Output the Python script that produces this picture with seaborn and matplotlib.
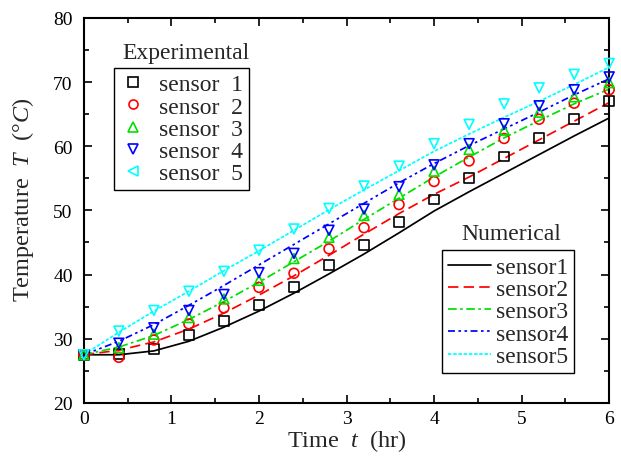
import matplotlib
matplotlib.use("Agg")
import matplotlib.pyplot as plt
from matplotlib.lines import Line2D
from matplotlib.ticker import MultipleLocator
import numpy as np
import pandas as pd
import seaborn as sns

# time points (hr) for both measured and computed curves
time = [0.0, 0.4, 0.8, 1.2, 1.6, 2.0, 2.4, 2.8, 3.2, 3.6, 4.0, 4.4, 4.8, 5.2, 5.6, 6.0]

exp_s1 = [27.5, 27.6, 28.4, 30.6, 32.8, 35.3, 38.1, 41.5, 44.6, 48.2, 51.7, 55.0, 58.4, 61.3, 64.3, 67.0]
exp_s2 = [27.5, 27.1, 29.8, 32.3, 34.8, 38.0, 40.2, 44.0, 47.3, 50.9, 54.5, 57.7, 61.2, 64.2, 66.7, 68.8]
exp_s3 = [27.5, 28.6, 30.7, 33.3, 36.2, 39.1, 42.5, 45.8, 49.2, 52.5, 56.1, 59.5, 62.5, 65.3, 67.7, 69.9]
exp_s4 = [27.5, 29.3, 31.7, 34.4, 36.9, 40.3, 43.3, 46.9, 50.2, 53.7, 57.1, 60.4, 63.5, 66.3, 68.8, 70.8]
exp_s5 = [27.5, 31.2, 34.4, 37.4, 40.5, 43.8, 47.1, 50.3, 53.8, 56.9, 60.4, 63.4, 66.6, 69.1, 71.2, 72.9]

# numerical results (deg C)
num_s1 = [27.5, 27.5, 28.1, 29.6, 31.8, 34.3, 37.1, 40.1, 43.2, 46.5, 49.9, 52.9, 55.8, 58.7, 61.6, 64.4]
num_s2 = [27.5, 28.2, 29.5, 31.5, 34.0, 36.8, 39.8, 43.0, 46.3, 49.5, 52.5, 55.2, 58.1, 61.0, 63.9, 66.8]
num_s3 = [27.5, 28.7, 30.5, 33.0, 35.8, 38.8, 42.0, 45.2, 48.6, 51.9, 55.2, 58.3, 61.3, 64.0, 66.6, 68.9]
num_s4 = [27.5, 29.6, 32.2, 35.2, 38.3, 41.5, 44.7, 47.9, 51.1, 54.3, 57.3, 60.1, 62.7, 65.3, 68.0, 70.5]
num_s5 = [27.5, 31.0, 34.3, 37.4, 40.6, 43.7, 46.9, 50.1, 53.2, 56.2, 59.2, 61.9, 64.5, 67.0, 69.6, 72.3]

sensors = ["sensor  1", "sensor  2", "sensor  3", "sensor  4", "sensor  5"]
num_labels = ["sensor1", "sensor2", "sensor3", "sensor4", "sensor5"]
exp_data = [exp_s1, exp_s2, exp_s3, exp_s4, exp_s5]
num_data = [num_s1, num_s2, num_s3, num_s4, num_s5]

colors = ["black", "red", "#00e000", "blue", "cyan"]
markers = ["s", "o", "^", "v", "v"]
legend_markers = ["s", "o", "^", "v", "<"]
dashes = ["-", (0, (6, 3)), (0, (5, 2, 1.5, 2)), (0, (4, 2, 1.5, 2, 1.5, 2)), (0, (2, 1))]

sns.set_style("ticks")
plt.rcParams["font.family"] = ["Liberation Serif", "DejaVu Serif"]
plt.rcParams["mathtext.fontset"] = "custom"
plt.rcParams["mathtext.rm"] = "Liberation Serif"
plt.rcParams["mathtext.it"] = "Liberation Serif:italic"

fig = plt.figure(figsize=(6.21, 4.60), dpi=100)
ax = fig.add_axes([0.135, 0.122, 0.846, 0.837])

# numerical curves
for i in range(5):
    df = pd.DataFrame({"t": time, "T": num_data[i]})
    sns.lineplot(data=df, x="t", y="T", ax=ax, color=colors[i], lw=1.25,
                 linestyle=dashes[i], legend=False, zorder=2)

# experimental points
for i in range(5):
    df = pd.DataFrame({"t": time, "T": exp_data[i]})
    sns.scatterplot(data=df, x="t", y="T", ax=ax, marker=markers[i],
                    facecolor="none", edgecolor=colors[i], linewidth=1.2,
                    s=50, legend=False, zorder=3, clip_on=False)

ax.set_xlim(0, 6)
ax.set_ylim(20, 80)
ax.xaxis.set_major_locator(MultipleLocator(1))
ax.xaxis.set_minor_locator(MultipleLocator(0.5))
ax.yaxis.set_major_locator(MultipleLocator(10))
ax.yaxis.set_minor_locator(MultipleLocator(5))
ax.tick_params(which="both", direction="in", top=True, right=True,
               labelsize=14, width=1.2, colors="black")
ax.tick_params(which="major", length=5.5)
ax.tick_params(which="minor", length=3.5)
ax.tick_params(axis="y", which="major", pad=8)
ax.tick_params(axis="x", which="major", pad=5)
for sp in ax.spines.values():
    sp.set_linewidth(1.5)
    sp.set_color("black")

ax.set_xlabel("Time  $t$  (hr)", fontsize=17.5, labelpad=0)
ax.set_ylabel("Temperature  $T$  (°$C$)", fontsize=17.5)
ax.yaxis.set_label_coords(-0.092, 0.53)

# experimental legend, title outside the frame
exp_handles = [Line2D([], [], linestyle="none", marker=legend_markers[i],
                      markerfacecolor="none", markeredgecolor=colors[i],
                      markeredgewidth=1.2, markersize=6.5) for i in range(5)]
leg1 = ax.legend(exp_handles, sensors,
                 loc="upper left", bbox_to_anchor=(0.058, 0.870),
                 frameon=True, fancybox=False, edgecolor="black",
                 fontsize=17, handlelength=1.1, handletextpad=0.55,
                 labelspacing=0.03, borderpad=0.25, borderaxespad=0)
leg1.get_frame().set_linewidth(1.0)
leg1.get_frame().set_alpha(1)
ax.add_artist(leg1)
ax.text(0.194, 0.909, "Experimental", transform=ax.transAxes,
        ha="center", va="center", fontsize=17)

# numerical legend
num_handles = [Line2D([], [], color=colors[i], linestyle=dashes[i], lw=1.25)
               for i in range(5)]
leg2 = ax.legend(num_handles, num_labels, loc="upper left",
                 bbox_to_anchor=(0.681, 0.396), frameon=True, fancybox=False,
                 edgecolor="black", fontsize=17, handlelength=1.85,
                 handletextpad=0.2, labelspacing=0.03, borderpad=0.25,
                 borderaxespad=0)
leg2.get_frame().set_linewidth(1.0)
leg2.get_frame().set_alpha(1)
ax.text(0.813, 0.439, "Numerical", transform=ax.transAxes,
        ha="center", va="center", fontsize=17)

fig.savefig("out.png", dpi=100)
